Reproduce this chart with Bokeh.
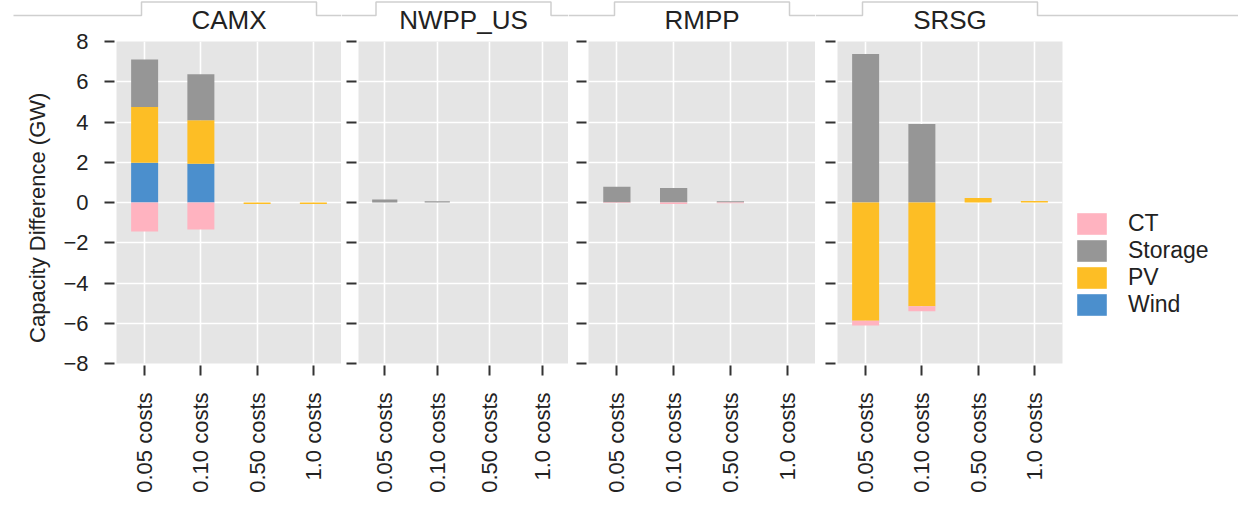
import math
from bokeh.plotting import figure
from bokeh.layouts import row, column
from bokeh.models import (ColumnDataSource, FactorRange, Range1d, FixedTicker,
                          Legend, LegendItem)
from bokeh.core.properties import value
from bokeh.embed import file_html
from bokeh.resources import INLINE

regions = ["CAMX", "NWPP_US", "RMPP", "SRSG"]
scenarios = ["0.05 costs", "0.10 costs", "0.50 costs", "1.0 costs"]
techs = ["CT", "Storage", "PV", "Wind"]
stack_order = ["Wind", "PV", "Storage", "CT"]

# GW difference, one row per region, one value per scenario
ct = [[-1.44, -1.34, 0.0, 0.0],
      [0.0, 0.0, 0.0, 0.0],
      [-0.03, -0.07, -0.04, 0.0],
      [-0.23, -0.25, 0.0, 0.0]]
storage = [[2.36, 2.28, 0.0, 0.0],
           [0.15, 0.06, 0.0, 0.0],
           [0.78, 0.72, 0.06, 0.0],
           [7.38, 3.90, 0.0, 0.0]]
pv = [[2.78, 2.17, -0.08, -0.08],
      [0.0, 0.0, 0.0, 0.0],
      [0.0, 0.0, 0.0, 0.0],
      [-5.88, -5.15, 0.22, 0.07]]
wind = [[1.97, 1.92, 0.0, 0.0],
        [0.0, 0.0, 0.0, 0.0],
        [0.0, 0.0, 0.0, 0.0],
        [0.0, 0.0, 0.0, 0.0]]

y_ticks = [-8, -6, -4, -2, 0, 2, 4, 6, 8]
y_tick_labels = ["\u22128", "\u22126", "\u22124", "\u22122", "0", "2", "4", "6", "8"]
y_title = "Capacity Difference (GW)"

colors = {"CT": "#ffb3c0", "Storage": "#969696", "PV": "#fdbe25", "Wind": "#4b8fcd"}
values = {"CT": ct, "Storage": storage, "PV": pv, "Wind": wind}

FONT = "Liberation Sans"
TXT = "#222222"

# layout (px): frame widths and borders per panel
frame_w = [225, 210, 227, 225]
left_b = [116, 17, 20, 22]
right_b = [0, 0, 0, 176]
FRAME_H = 322
TOP_B = 14
STRIP_H = 41
TAB_HALF = 87.5

mains = []
strips = []
for i, reg in enumerate(regions):
    data = {"scenario": scenarios}
    for t in techs:
        vals = values[t][i]
        data[t + "_pos"] = [v if v > 0 else 0.0 for v in vals]
        data[t + "_neg"] = [v if v < 0 else 0.0 for v in vals]
    src = ColumnDataSource(data)

    p = figure(x_range=FactorRange(*scenarios), y_range=Range1d(-8, 8),
               frame_width=frame_w[i], frame_height=FRAME_H,
               min_border_left=left_b[i], min_border_right=right_b[i],
               min_border_top=TOP_B, min_border_bottom=0,
               output_backend="svg", toolbar_location=None, title=None)
    p.background_fill_color = "#e5e5e5"
    p.border_fill_alpha = 0  # lets the strip underneath show through
    p.outline_line_color = None
    p.grid.grid_line_color = "white"
    p.grid.grid_line_width = 1.6

    pos = p.vbar_stack([t + "_pos" for t in stack_order], x="scenario", width=0.48,
                       source=src, color=[colors[t] for t in stack_order], line_width=0)
    p.vbar_stack([t + "_neg" for t in stack_order], x="scenario", width=0.48,
                 source=src, color=[colors[t] for t in stack_order], line_width=0)

    p.yaxis.ticker = FixedTicker(ticks=y_ticks)
    for ax in (p.xaxis[0], p.yaxis[0]):
        ax.axis_line_color = None
        ax.major_tick_line_color = "#333333"
        ax.major_tick_line_width = 2
        ax.major_tick_in = -2
        ax.major_tick_out = 12
        ax.minor_tick_line_color = None
        ax.major_label_text_font = FONT
        ax.major_label_text_color = TXT
    p.xaxis.major_label_orientation = math.pi / 2
    p.xaxis.major_label_text_font_size = "22px"
    p.xaxis.major_label_standoff = 17
    if i == 0:
        p.yaxis.major_label_overrides = dict(zip(y_ticks, y_tick_labels))
        p.yaxis.major_label_text_font_size = "22px"
        p.yaxis.major_label_standoff = 16
        # trailing no-break spaces nudge the rotated title onto the panel's centre
        p.yaxis.axis_label = y_title + "\u00a0" * 5
        p.yaxis.axis_label_text_font = FONT
        p.yaxis.axis_label_text_font_size = "22px"
        p.yaxis.axis_label_text_font_style = "normal"
        p.yaxis.axis_label_text_color = TXT
        p.yaxis.axis_label_standoff = 10
    else:
        p.yaxis.major_label_overrides = {t: "" for t in y_ticks}
        p.yaxis.major_label_standoff = 0

    if i == 3:
        by_tech = dict(zip(stack_order, pos))
        items = [LegendItem(label=t, renderers=[by_tech[t]]) for t in techs]
        leg = Legend(items=items, location=(11, 45), orientation="vertical",
                     glyph_width=37, glyph_height=27, label_height=27,
                     label_standoff=18, spacing=0, padding=0, margin=0,
                     border_line_color=None, background_fill_alpha=0,
                     label_text_font=FONT, label_text_font_size="23px",
                     label_text_color=TXT)
        p.add_layout(leg, "right")
    mains.append(p)

    # facet strip above the panel
    total_w = left_b[i] + frame_w[i] + right_b[i]
    s = figure(x_range=Range1d(0, total_w), y_range=Range1d(STRIP_H, 0),
               frame_width=total_w, frame_height=STRIP_H,
               min_border=0, x_axis_type=None, y_axis_type=None,
               output_backend="svg", toolbar_location=None, title=None)
    s.outline_line_color = None
    s.grid.visible = False
    cx = left_b[i] + frame_w[i] / 2
    x0 = 13 if i == 0 else 0
    s.line([x0, cx - TAB_HALF, cx - TAB_HALF, cx + TAB_HALF, cx + TAB_HALF, total_w],
           [15, 15, 1.5, 1.5, 15, 15], line_color="#cfcfcf", line_width=1.5)
    s.text(x=[cx], y=[19], text=[reg], text_align="center", text_baseline="middle",
           text_font=value(FONT), text_font_size="26px", text_color=TXT)
    strips.append(s)

# the panel row is pulled up so its (transparent) top border overlaps the strips
layout = column(row(*strips), row(*mains, margin=(-TOP_B, 0, 0, 0)))
open("out.html", "w").write(file_html(layout, INLINE))
